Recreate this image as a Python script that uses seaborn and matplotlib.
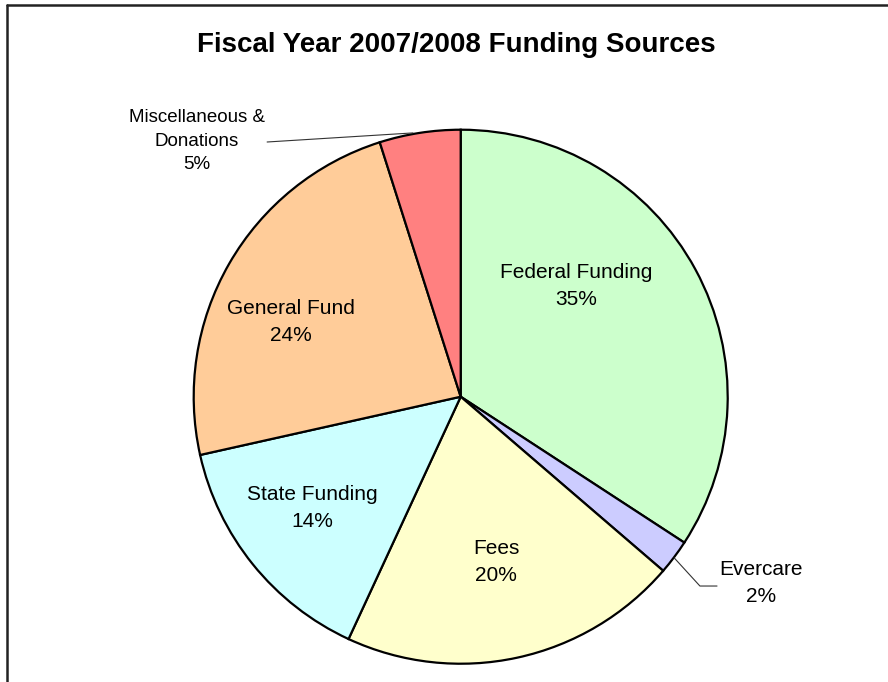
import matplotlib
matplotlib.use("Agg")
import matplotlib.pyplot as plt
from matplotlib.lines import Line2D
import seaborn as sns

# ---- data ----
categories = ["Federal Funding", "Evercare", "Fees", "State Funding", "General Fund",
              "Miscellaneous &\nDonations"]
shares = [34.2, 2.1, 20.6, 14.6, 23.6, 4.9]
pct_labels = ["35%", "2%", "20%", "14%", "24%", "5%"]
colors = ["#CCFFCC", "#CCCCFF", "#FFFFCC", "#CCFFFF", "#FFCC99", "#FF8080"]
title = "Fiscal Year 2007/2008 Funding Sources"

# ---- layout (label positions in pie units) ----
label_pos = [(0.432, 0.414), (1.125, -0.698), (0.132, -0.619),
             (-0.557, -0.417), (-0.636, 0.280), (-0.988, 0.957)]
label_size = [15, 15, 15, 15, 15, 13.5]
label_ls = [1.52, 1.52, 1.52, 1.52, 1.52, 1.5]

sns.set_theme(style="white")
plt.rcParams["font.family"] = ["Liberation Sans", "DejaVu Sans"]

fig = plt.figure(figsize=(8.88, 6.82), dpi=100)
fig.patch.set_facecolor("white")
ax = fig.add_axes([0.2181, 0.0268, 0.6014, 0.7830])

wedges, _ = ax.pie(shares, colors=colors, startangle=90, counterclock=False,
                   radius=1.0,
                   wedgeprops=dict(edgecolor="black", linewidth=1.6))
ax.set_xlim(-1, 1)
ax.set_ylim(-1, 1)
ax.set_aspect("equal")
ax.axis("off")

for (x, y), cat, p, fs, ls in zip(label_pos, categories, pct_labels, label_size, label_ls):
    ax.text(x, y, f"{cat}\n{p}", ha="center", va="center", fontsize=fs,
            linespacing=ls, color="black", clip_on=False)

# leader lines
ax.add_line(Line2D([0.800, 0.896, 0.960], [-0.604, -0.709, -0.709],
                   color="#333333", lw=0.8, clip_on=False))
ax.add_line(Line2D([-0.725, -0.179], [0.954, 0.988],
                   color="#333333", lw=0.8, clip_on=False))

fig.text(456 / 888, 1 - 45 / 682, title, ha="center", va="center",
         fontsize=20, fontweight="bold", color="black")

# chart frame (runs off right and bottom edges)
fig.add_artist(Line2D([7 / 888, 7 / 888], [0, 1 - 4.5 / 682], transform=fig.transFigure,
                      color="#222222", lw=1.8))
fig.add_artist(Line2D([7 / 888, 1], [1 - 4.5 / 682, 1 - 4.5 / 682], transform=fig.transFigure,
                      color="#222222", lw=1.8))

fig.savefig("out.png", dpi=100)
